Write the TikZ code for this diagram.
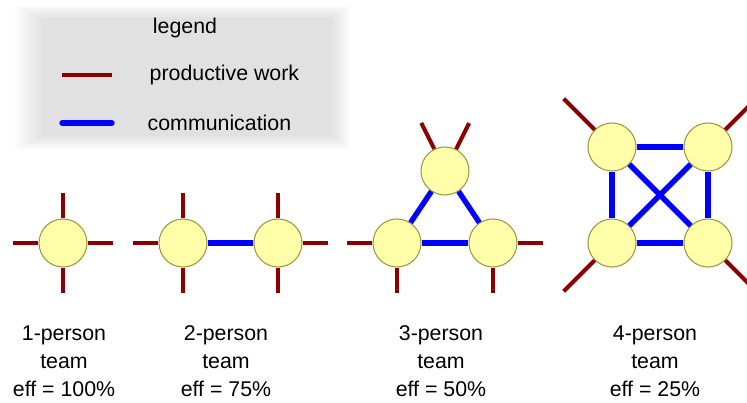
\documentclass[tikz,border=0pt]{standalone}
\usepackage{fontspec}
\setmainfont{Liberation Sans}
\usetikzlibrary{positioning,calc}
\definecolor{workred}{HTML}{8B0000}
\definecolor{talkblue}{HTML}{0000FF}
\definecolor{memberfill}{HTML}{FFFFAA}
\definecolor{memberedge}{HTML}{999940}
\tikzstyle{member}=[draw=memberedge,fill=memberfill,circle,minimum size=36pt,inner sep=0pt,line width=0.8pt]
\tikzstyle{work}=[draw=workred,line width=3pt]
\tikzstyle{talk}=[draw=talkblue,line width=4pt]
\tikzstyle{caption}=[align=center,font=\fontsize{16}{21}\selectfont]

\begin{document}
\begin{tikzpicture}[x=0.75pt,y=-0.75pt]
    \clip (0,0) rectangle (747,403);
    \useasboundingbox (0,0) rectangle (747,403);
    % legend
    \foreach \i in {0,...,9}
      \fill[black,opacity=0.010] (15+3*\i,5+1.5*\i) rectangle (350-2*\i,150-1.5*\i);
    \node [caption] (legend) at (185,28) {legend};
    \coordinate (work a) at (62,75);
    \coordinate (work b) at (112,75);
    \draw [work] (work a) -- (work b);
    \node [caption,anchor=west] (work text) at (145,75) {productive work};
    \coordinate (talk a) at (62,123);
    \coordinate (talk b) at (112,123);
    \draw [talk,line cap=round] (talk a) -- (talk b);
    \node [caption,anchor=west] (talk text) at (143,123) {communication};

    % 1-person team
    \node [member] (one) at (63,243) {};
    \draw [work] (one.north) -- ++(0,-25);
    \draw [work] (one.south) -- ++(0,25);
    \draw [work] (one.west) -- ++(-25,0);
    \draw [work] (one.east) -- ++(25,0);

    % 2-person team
    \node [member] (two a) at (183,243) {};
    \node [member] (two b) at (278,243) {};
    \draw [work] (two a.north) -- ++(0,-25);
    \draw [work] (two a.south) -- ++(0,25);
    \draw [work] (two a.west) -- ++(-25,0);
    \draw [work] (two b.north) -- ++(0,-25);
    \draw [work] (two b.south) -- ++(0,25);
    \draw [work] (two b.east) -- ++(25,0);
    \draw [talk] (two a) -- (two b);

    % 3-person team
    \node [member] (three a) at (445,171) {};
    \node [member] (three b) at (397,243) {};
    \node [member] (three c) at (493,243) {};
    \draw [work] (three a.116.6) -- ++(-13,-26);
    \draw [work] (three a.63.4) -- ++(13,-26);
    \draw [work] (three b.west) -- ++(-25,0);
    \draw [work] (three b.south) -- ++(0,25);
    \draw [work] (three c.east) -- ++(25,0);
    \draw [work] (three c.south) -- ++(0,25);
    \draw [talk] (three a) -- (three b);
    \draw [talk] (three a) -- (three c);
    \draw [talk] (three b) -- (three c);

    % 4-person team
    \node [member] (four a) at (612,147) {};
    \node [member] (four b) at (708,147) {};
    \node [member] (four c) at (612,243) {};
    \node [member] (four d) at (708,243) {};
    \draw [work] (four a.north west) -- ++(-31,-31);
    \draw [work] (four b.north east) -- ++(31,-31);
    \draw [work] (four c.south west) -- ++(-31,31);
    \draw [work] (four d.south east) -- ++(31,31);
    \draw [talk] (four a) -- (four b);
    \draw [talk] (four c) -- (four d);
    \draw [talk] (four a) -- (four c);
    \draw [talk] (four b) -- (four d);
    \draw [talk] (four a) -- (four d);
    \draw [talk] (four b) -- (four c);

    % captions
    \node [caption] (cap one) at (64,361) {1-person\\team\\eff = 100\%};
    \node [caption] (cap two) at (226,361) {2-person\\team\\eff = 75\%};
    \node [caption] (cap three) at (441,361) {3-person\\team\\eff = 50\%};
    \node [caption] (cap four) at (655,361) {4-person\\team\\eff = 25\%};
\end{tikzpicture}
\end{document}
